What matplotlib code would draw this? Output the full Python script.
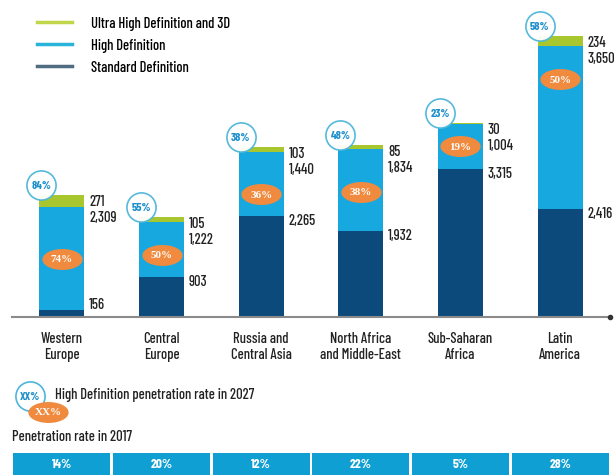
import matplotlib
matplotlib.use("Agg")
import matplotlib.pyplot as plt
import numpy as np
from matplotlib.lines import Line2D
from matplotlib.path import Path

plt.rcParams['font.family'] = ['Barlow Condensed', 'DejaVu Sans']

# ---------------- data ----------------
regions = ["Western\nEurope", "Central\nEurope", "Russia and\nCentral Asia",
           "North Africa\nand Middle-East", "Sub-Saharan\nAfrica", "Latin\nAmerica"]
sd = [156, 903, 2265, 1932, 3315, 2416]
hd = [2309, 1222, 1440, 1834, 1004, 3650]
uhd = [271, 105, 103, 85, 30, 234]
hd_rate_2027 = ["84%", "55%", "38%", "48%", "23%", "58%"]
pen_2017_hd = ["74%", "50%", "36%", "38%", "19%", "50%"]
pen_2017 = ["14%", "20%", "12%", "22%", "5%", "28%"]
series_names = ["Ultra High Definition and 3D", "High Definition", "Standard Definition"]

# label vertical anchor (data units) for the orange 2017 ellipses
pen_label_y = [1300, 1390, 2755, 2800, 3830, 5330]

C_UHD = "#a8c62e"
C_HD = "#17a8df"
C_SD = "#0c4a7c"
C_ORANGE = "#f08a3e"
C_RING = "#4db6da"
C_RINGTXT = "#1d8fcb"
C_BOX = "#0f9fd2"
TXT = "#222222"
FS = 10.5

W, H = 614, 477
fig = plt.figure(figsize=(W / 100, H / 100), dpi=100)

def fx(px):
    return px / W

def fy(py):
    return 1 - py / H

# ---------------- main chart ----------------
ax = fig.add_axes([fx(12), fy(318), fx(598), 318 / H])
x = np.arange(len(regions))
bw = 0.45
sd_a, hd_a, uhd_a = np.array(sd), np.array(hd), np.array(uhd)
ax.bar(x, sd_a, bw, color=C_SD, zorder=2)
ax.bar(x, hd_a, bw, bottom=sd_a, color=C_HD, zorder=2)
ax.bar(x, uhd_a, bw, bottom=sd_a + hd_a, color=C_UHD, zorder=2)
ax.set_xlim(-0.5, 5.5)
ax.set_ylim(0, 318 * 22.4)

for s in ["top", "right", "left"]:
    ax.spines[s].set_visible(False)
ax.spines["bottom"].set_color("#8a8a8a")
ax.spines["bottom"].set_linewidth(1.5)
ax.set_yticks([])
ax.set_xticks(x)
ax.set_xticklabels(regions, fontsize=FS, color=TXT, linespacing=1.2, fontweight="medium")
ax.tick_params(axis="x", length=0, pad=10)
ax.plot([1], [0], "o", transform=ax.transAxes, clip_on=False, ms=3,
        color="#333333", zorder=5)

tot = sd_a + hd_a + uhd_a
for i in range(len(regions)):
    xr = x[i] + bw / 2
    ax.annotate(f"{uhd[i]:,}", (xr, tot[i]), xytext=(5, -6), textcoords="offset pixels",
                ha="left", va="center", fontsize=FS, color=TXT, fontweight="medium")
    ax.annotate(f"{hd[i]:,}", (xr, tot[i]), xytext=(5, -22), textcoords="offset pixels",
                ha="left", va="center", fontsize=FS, color=TXT, fontweight="medium")
    sd_off = 6 if sd[i] < 500 else -4
    ax.annotate(f"{sd[i]:,}", (xr, sd[i]), xytext=(5, sd_off), textcoords="offset pixels",
                ha="left", va="center", fontsize=FS, color=TXT, fontweight="medium")

# ellipse marker
t = np.linspace(0, 2 * np.pi, 60)
ell_path = Path(np.column_stack([np.cos(t), 0.52 * np.sin(t)]))

for i in range(len(regions)):
    # ring with 2027 HD rate
    cx = x[i] - bw / 2 + 0.02
    cy = tot[i] + 10 * 22.4
    ax.plot([cx], [cy], "o", ms=21, mfc="white", mec=C_RING, mew=1.2,
            clip_on=False, zorder=4, alpha=0.95)
    ax.text(cx, cy, hd_rate_2027[i], ha="center", va="center", fontsize=8.5,
            fontweight="bold", color=C_RINGTXT, zorder=6)
    # orange ellipse with 2017 rate
    ax.plot([x[i]], [pen_label_y[i]], marker=ell_path, ms=29, mfc=C_ORANGE,
            mec=C_ORANGE, mew=0, zorder=4)
    ax.text(x[i], pen_label_y[i], pen_2017_hd[i], ha="center", va="center",
            fontsize=8, fontweight="bold", color="white",
            family=["Liberation Serif", "DejaVu Serif"], zorder=6)

# ---------------- legend ----------------
handles = [Line2D([], [], color=c, lw=2.5) for c in ["#c2d64a", "#2ab3d8", "#4f6c80"]]
fig.legend(handles, series_names, loc="upper left", bbox_to_anchor=(fx(37), fy(17)),
           frameon=False, prop={"size": FS, "weight": "medium"}, handlelength=2.4,
           handletextpad=1.3, labelspacing=0.55, borderpad=0, borderaxespad=0)

# ---------------- bottom key ----------------
ov = fig.add_axes([0, 0, 1, 1], facecolor="none")
ov.set_xlim(0, W)
ov.set_ylim(H, 0)
ov.axis("off")
ov.plot([30], [397], "o", ms=21, mfc="white", mec=C_RING, mew=1.2, zorder=2)
ov.text(30, 397, "XX%", ha="center", va="center", fontsize=8.5, fontweight="bold",
        color=C_RINGTXT, zorder=3)
ov.text(55, 395, "High Definition penetration rate in 2027", ha="left", va="center",
        fontsize=FS, color=TXT, fontweight="medium")
ov.plot([48], [413], marker=ell_path, ms=29, mfc=C_ORANGE, mec=C_ORANGE, mew=0, zorder=4)
ov.text(48, 413, "XX%", ha="center", va="center", fontsize=8, fontweight="bold",
        color="white", family=["Liberation Serif", "DejaVu Serif"], zorder=5)
ov.text(12, 437, "Penetration rate in 2017", ha="left", va="center", fontsize=FS,
        color=TXT, fontweight="medium")

bx = fig.add_axes([fx(12), fy(476), fx(598), 22 / H])
bx.bar(x, [1] * len(pen_2017), 0.97, color=C_BOX)
bx.set_xlim(-0.5, 5.5)
bx.set_ylim(0, 1)
bx.axis("off")
for i, p in enumerate(pen_2017):
    bx.text(x[i], 0.5, p, ha="center", va="center", fontsize=9.5, fontweight="bold",
            color="white")

fig.savefig("out.png", dpi=100)
